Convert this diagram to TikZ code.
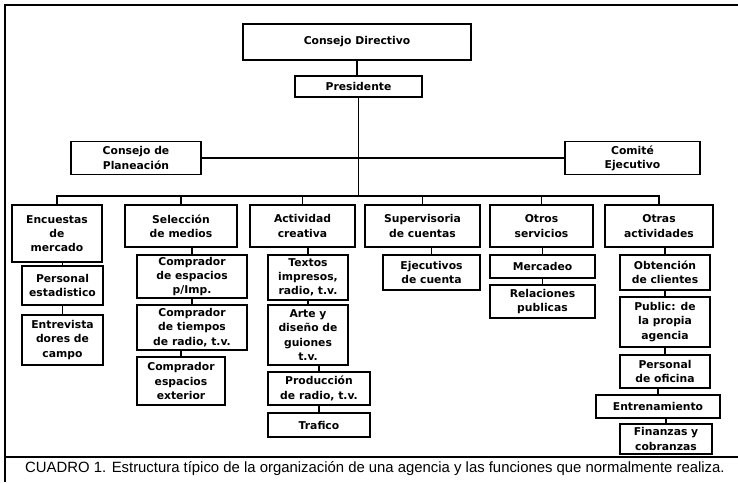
\documentclass[tikz,border=0pt]{standalone}
\usepackage{fontspec}
\setsansfont{DejaVu Sans}
\newfontfamily\pie{Liberation Sans}
\usetikzlibrary{positioning,calc}
\newdimen\px \px=0.03cm

\begin{document}
\begin{tikzpicture}[x=\px,y=-\px,
  caja/.style={draw,line width=1.1pt,fill=white,align=center,inner sep=1pt,
    font=\sffamily\bfseries\fontsize{9.2}{12.2}\selectfont},
  linea/.style={line width=1.1pt}]
\useasboundingbox (0,0) rectangle (738,482);
\draw[line width=1.3pt] (738,5) -- (5,5) -- (5,482);
\draw[line width=1.1pt] (5,457) -- (738,457);

\node [caja,minimum width=228\px,minimum height=36\px] (cd) at (357,42) {Consejo Directivo};
\node [caja,minimum width=127\px,minimum height=21\px] (pres) at (358.5,86.5) {Presidente};
\node [caja,minimum width=130\px,minimum height=33\px] (cdp) at (136,158) {Consejo de\\Planeación};
\node [caja,minimum width=135\px,minimum height=33\px] (ce) at (632.5,158) {Comité\\Ejecutivo};

\node [caja,minimum width=90\px,minimum height=57\px] (enc) at (57,233.5) {Encuestas\\de\\mercado};
\node [caja,minimum width=112\px,minimum height=42\px] (sel) at (181,226) {Selección\\de medios};
\node [caja,minimum width=105\px,minimum height=42\px] (act) at (302.5,226) {Actividad\\creativa};
\node [caja,minimum width=115\px,minimum height=42\px] (sup) at (422.5,226) {Supervisoria\\de cuentas};
\node [caja,minimum width=103\px,minimum height=42\px] (otr) at (541.5,226) {Otros\\servicios};
\node [caja,minimum width=108\px,minimum height=42\px] (ota) at (659,226) {Otras\\actividades};

\node [caja,minimum width=81\px,minimum height=39\px] (per) at (62.5,285.5) {Personal\\estadistico};
\node [caja,minimum width=81\px,minimum height=50\px] (ent) at (62.5,340) {Entrevista\\dores de\\campo};

\node [caja,minimum width=110\px,minimum height=43\px] (cp1) at (192,276.5) {Comprador\\de espacios\\p/Imp.};
\node [caja,minimum width=110\px,minimum height=45\px] (cp2) at (192,327.5) {Comprador\\de tiempos\\de radio, t.v.};
\node [caja,minimum width=88\px,minimum height=48\px] (cp3) at (181,381) {Comprador\\espacios\\exterior};

\node [caja,minimum width=80\px,minimum height=45\px] (tex) at (308,277.5) {Textos\\impresos,\\radio, t.v.};
\node [caja,minimum width=80\px,minimum height=60\px] (art) at (308,335) {Arte y\\diseño de\\guiones\\t.v.};
\node [caja,minimum width=102\px,minimum height=33\px] (pro) at (319,388.5) {Producción\\de radio, t.v.};
\node [caja,minimum width=102\px,minimum height=24\px] (tra) at (319,425) {Trafico};

\node [caja,minimum width=97\px,minimum height=35\px] (eje) at (431.5,272.5) {Ejecutivos\\de cuenta};

\node [caja,minimum width=105\px,minimum height=23\px] (mer) at (542.5,266.5) {Mercadeo};
\node [caja,minimum width=105\px,minimum height=33\px] (rel) at (542.5,301.5) {Relaciones\\publicas};

\node [caja,minimum width=90\px,minimum height=35\px] (obt) at (665,272.5) {Obtención\\de clientes};
\node [caja,minimum width=90\px,minimum height=50\px] (pub) at (665,322) {Public: de\\la propia\\agencia};
\node [caja,minimum width=90\px,minimum height=33\px] (pof) at (665,371.5) {Personal\\de oficina};
\node [caja,minimum width=124\px,minimum height=23\px] (etr) at (658,406.5) {Entrenamiento};
\node [caja,minimum width=92\px,minimum height=30\px] (fin) at (666,439) {Finanzas y\\cobranzas};

\node [anchor=west,inner sep=0pt,font=\pie\fontsize{12.7}{14}\selectfont] (pie) at (25,469) {CUADRO 1. Estructura típico de la organización de una agencia y las funciones que normalmente realiza.};

\coordinate (bus) at (0,196);
\draw [linea] (cd.south) -- (cd.south |- pres.north);
\draw [linea] (pres.south) -- (pres.south |- bus);
\draw [linea] (cdp.east) -- (ce.west);
\draw [linea] (enc.north) -- (enc.north |- bus) -- (ota.north |- bus) -- (ota.north);
\foreach \n in {sel,act,sup,otr}
  \draw [linea] (\n.north) -- (\n.north |- bus);
\foreach \a/\b in {enc/per,per/ent,sel/cp1,cp1/cp2,cp2/cp3,act/tex,tex/art,art/pro,pro/tra,sup/eje,otr/mer,mer/rel,ota/obt,obt/pub,pub/pof,pof/etr,etr/fin}
  \draw [linea] (\b.north) -- (\b.north |- \a.south);
\end{tikzpicture}
\end{document}
